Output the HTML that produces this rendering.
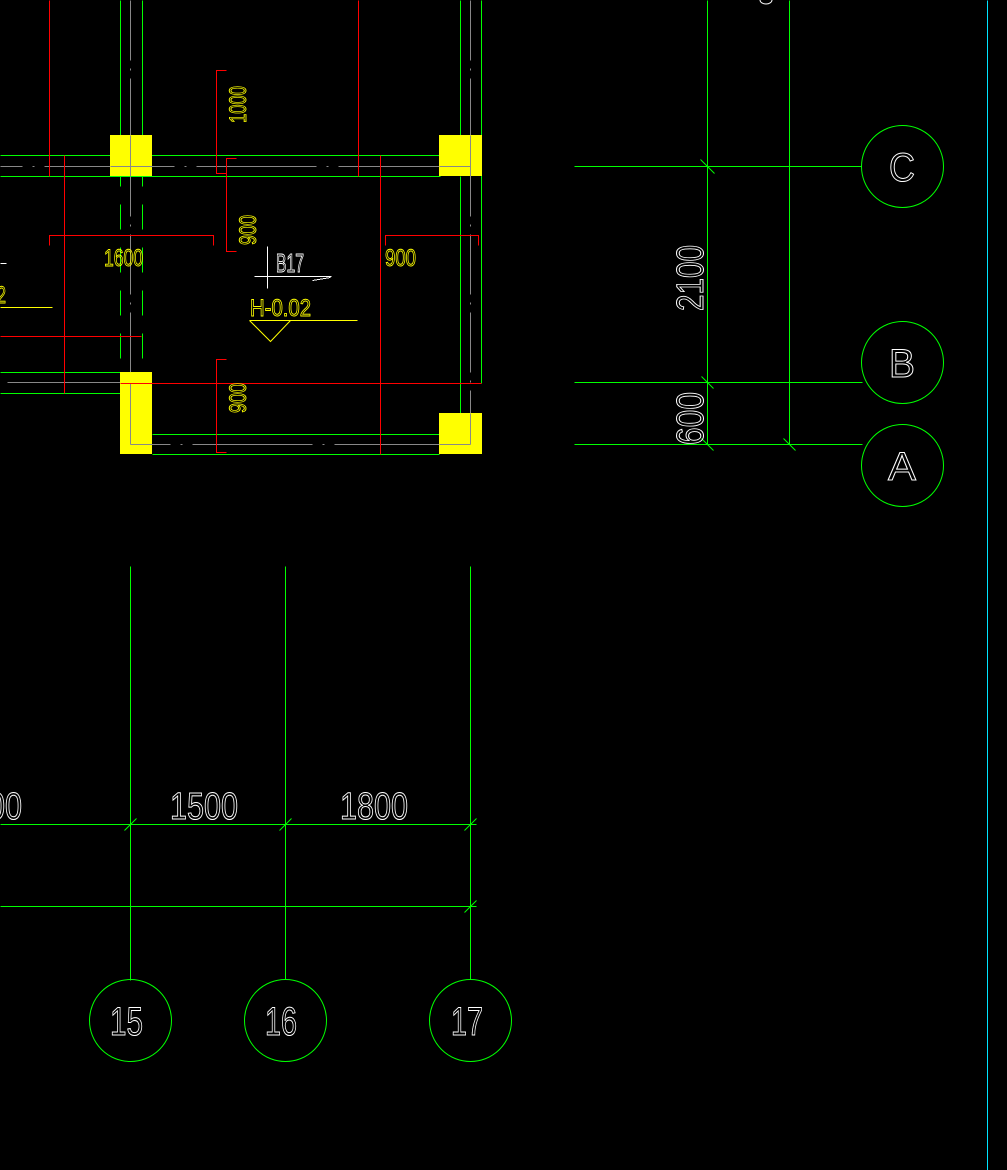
<!DOCTYPE html>
<html><head><meta charset="utf-8"><style>
html,body{margin:0;padding:0;background:#000;}
svg{display:block;}
text{font-family:"Liberation Sans",sans-serif;}
</style></head><body>
<svg width="1007" height="1170" viewBox="0 0 1007 1170" xmlns="http://www.w3.org/2000/svg">
<rect width="1007" height="1170" fill="#000"/>
<g transform="translate(0.5,0.5)">
<g stroke-width="1" fill="none" shape-rendering="crispEdges">
<g stroke="#888">
<line x1="130" y1="0" x2="130" y2="444" stroke-dasharray="60,8,2,8"/>
<line x1="470" y1="0" x2="470" y2="444" stroke-dasharray="60,8,2,8"/>
<line x1="0" y1="166" x2="470" y2="166" stroke-dasharray="22,10,2,10,130,10,2,10,120,10,2,10,120"/>
<line x1="7" y1="382" x2="130" y2="382"/>
<line x1="130" y1="444" x2="470" y2="444" stroke-dasharray="40,10,2,10,120,10,2,10,200"/>
</g>
<g stroke="#00ff00">
<line x1="120" y1="0" x2="120" y2="135"/>
<line x1="142" y1="0" x2="142" y2="135"/>
<line x1="120" y1="176" x2="120" y2="372" stroke-dasharray="10,18,25,18,25,18,25,18,25,18,40"/>
<line x1="142" y1="176" x2="142" y2="372" stroke-dasharray="10,18,25,18,25,18,25,18,25,18,40"/>
<line x1="460" y1="0" x2="460" y2="135"/>
<line x1="460" y1="176" x2="460" y2="413"/>
<line x1="481" y1="0" x2="481" y2="383"/>
<line x1="0" y1="155" x2="440" y2="155"/>
<line x1="0" y1="176" x2="440" y2="176"/>
<line x1="0" y1="372" x2="120" y2="372"/>
<line x1="0" y1="393" x2="120" y2="393"/>
<line x1="152" y1="434" x2="439" y2="434"/>
<line x1="152" y1="454" x2="439" y2="454"/>
<line x1="574" y1="166" x2="861" y2="166"/>
<line x1="574" y1="382" x2="862" y2="382"/>
<line x1="574" y1="444" x2="862" y2="444"/>
<line x1="707" y1="0" x2="707" y2="444"/>
<line x1="789" y1="0" x2="789" y2="444"/>
<line x1="130" y1="566" x2="130" y2="980"/>
<line x1="285" y1="566" x2="285" y2="979"/>
<line x1="470" y1="566" x2="470" y2="979"/>
<line x1="0" y1="824" x2="476" y2="824"/>
<line x1="0" y1="906" x2="476" y2="906"/>
</g>
<g stroke="#00ff00" shape-rendering="auto">
<line x1="700" y1="159" x2="714" y2="173"/>
<line x1="701" y1="376" x2="713" y2="388"/>
<line x1="701" y1="438" x2="713" y2="450"/>
<line x1="783" y1="438" x2="795" y2="450"/>
<line x1="124" y1="830" x2="136" y2="818"/>
<line x1="279" y1="830" x2="291" y2="818"/>
<line x1="464" y1="830" x2="476" y2="818"/>
<line x1="464" y1="912" x2="476" y2="900"/>
<circle cx="902" cy="166" r="41"/>
<circle cx="902" cy="362" r="41"/>
<circle cx="902" cy="465" r="41"/>
<circle cx="130" cy="1020" r="41"/>
<circle cx="285" cy="1020" r="41"/>
<circle cx="470" cy="1020" r="41"/>
</g>
<line x1="987" y1="0" x2="987" y2="1170" stroke="#00e5ff"/>
<g stroke="#ff0000">
<line x1="49" y1="0" x2="49" y2="176"/>
<line x1="358" y1="0" x2="358" y2="176"/>
<line x1="64" y1="155" x2="64" y2="393"/>
<line x1="380" y1="155" x2="380" y2="454"/>
<line x1="0" y1="336" x2="141" y2="336"/>
<line x1="120" y1="383" x2="481" y2="383"/>
<polyline points="226,70 216,70 216,173 226,173"/>
<polyline points="236,158 226,158 226,251 236,251"/>
<polyline points="226,359 216,359 216,452 226,452"/>
<polyline points="49,245 49,235 213,235 213,245"/>
<polyline points="385,245 385,235 478,235 478,245"/>
</g>
</g>
</g>
<g fill="#ffff00">
<rect x="110" y="135" width="42" height="41"/>
<rect x="439" y="135" width="43" height="41"/>
<rect x="120" y="372" width="32" height="82"/>
<rect x="439" y="413" width="43" height="41"/>
</g>
<g transform="translate(0.5,0.5)" fill="none" stroke-width="1" shape-rendering="crispEdges">
<line x1="130" y1="135" x2="130" y2="176" stroke="#888"/>
<line x1="470" y1="135" x2="470" y2="176" stroke="#888"/>
<line x1="110" y1="166" x2="152" y2="166" stroke="#888"/>
<line x1="439" y1="166" x2="470" y2="166" stroke="#888"/>
<line x1="130" y1="383" x2="130" y2="444" stroke="#888"/>
<line x1="470" y1="413" x2="470" y2="444" stroke="#888"/>
<line x1="130" y1="444" x2="152" y2="444" stroke="#888"/>
<line x1="439" y1="444" x2="470" y2="444" stroke="#888"/>
<line x1="152" y1="383" x2="120" y2="383" stroke="#ff0000"/>
<g stroke="#ffff00">
<line x1="0" y1="307" x2="52" y2="307"/>
<line x1="249" y1="320" x2="357" y2="320"/>
<polyline points="249,320 270,341 290,320" shape-rendering="auto"/>
</g>
<g stroke="#fff">
<line x1="267" y1="246" x2="267" y2="288"/>
<line x1="254" y1="276" x2="331" y2="276"/>
<line x1="312" y1="280" x2="330" y2="277"/>
<line x1="0" y1="263" x2="6" y2="263"/>
</g>
</g>
<g fill="none" stroke="#ffff00" stroke-width="0.9" font-size="24">
<text x="104" y="266" textLength="39" lengthAdjust="spacingAndGlyphs">1600</text>
<text x="385" y="266" textLength="31" lengthAdjust="spacingAndGlyphs">900</text>
<text x="250" y="316" textLength="61" lengthAdjust="spacingAndGlyphs">H-0.02</text>
<text x="-3" y="303" textLength="9" lengthAdjust="spacingAndGlyphs">2</text>
<text transform="translate(246,123) rotate(-90)" textLength="37" lengthAdjust="spacingAndGlyphs">1000</text>
<text transform="translate(256,245) rotate(-90)" textLength="30" lengthAdjust="spacingAndGlyphs">900</text>
<text transform="translate(246,413) rotate(-90)" textLength="30" lengthAdjust="spacingAndGlyphs">900</text>
</g>
<g fill="none" stroke="#fff" stroke-width="1">
<text x="276" y="272" font-size="26" textLength="28" lengthAdjust="spacingAndGlyphs">B17</text>
<text x="170" y="819" font-size="38" textLength="68" lengthAdjust="spacingAndGlyphs">1500</text>
<text x="340" y="819" font-size="38" textLength="68" lengthAdjust="spacingAndGlyphs">1800</text>
<text x="-12" y="819" font-size="38" textLength="34" lengthAdjust="spacingAndGlyphs">00</text>
<text transform="translate(703,311) rotate(-90)" font-size="38" textLength="66" lengthAdjust="spacingAndGlyphs">2100</text>
<text transform="translate(703,445) rotate(-90)" font-size="38" textLength="53" lengthAdjust="spacingAndGlyphs">600</text>
<text x="889" y="181" font-size="40" textLength="26" lengthAdjust="spacingAndGlyphs">C</text>
<text x="889" y="377" font-size="40" textLength="26" lengthAdjust="spacingAndGlyphs">B</text>
<text x="888" y="480" font-size="40" textLength="28" lengthAdjust="spacingAndGlyphs">A</text>
<text x="110" y="1035" font-size="40" textLength="33" lengthAdjust="spacingAndGlyphs">15</text>
<text x="265" y="1035" font-size="40" textLength="32" lengthAdjust="spacingAndGlyphs">16</text>
<text x="451" y="1035" font-size="40" textLength="32" lengthAdjust="spacingAndGlyphs">17</text>
</g>
<ellipse cx="766" cy="0" rx="6" ry="4" fill="none" stroke="#fff"/>
</svg>
</body></html>
